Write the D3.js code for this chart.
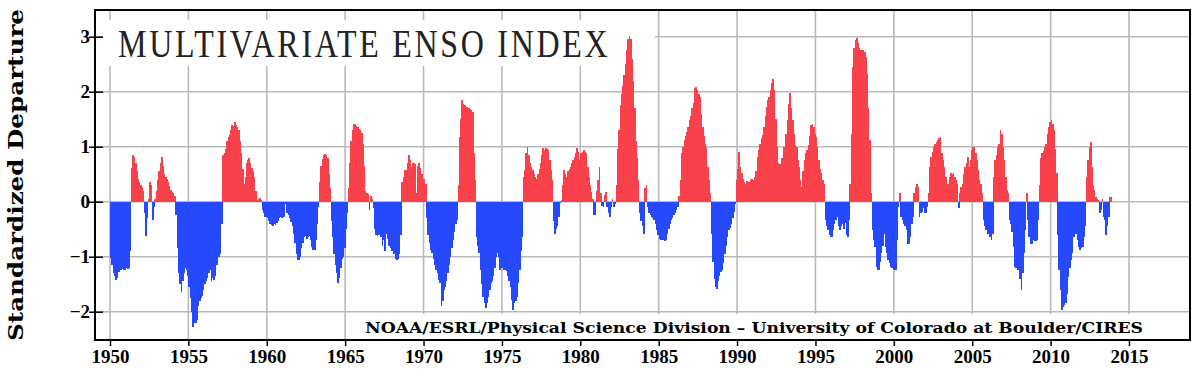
<!DOCTYPE html>
<html>
<head>
<meta charset="utf-8">
<script src="https://cdn.jsdelivr.net/npm/d3@7"></script>
<style>
  body { margin: 0; background: #fff; }
  svg { display: block; }
</style>
</head>
<body>
<script>
// MEI values, one per month (Dec/Jan, Jan/Feb, ...)
const startYear = 1950;
const mei1950s = [
  -1.03,-1.15,-1.30,-1.35,-1.42,-1.38,-1.28,-1.25,-1.24,-1.22,-1.24,-1.25,
  -1.20,-1.22,-1.20,-0.90,0.62,0.85,0.82,0.70,0.55,0.42,0.35,0.30,
  0.27,0.20,-0.20,-0.62,-0.30,0.05,0.36,0.30,-0.33,-0.10,0.05,0.20,
  0.40,0.55,0.70,0.82,0.65,0.50,0.45,0.42,0.35,0.28,0.22,0.18,
  0.15,0.10,-0.25,-0.85,-1.30,-1.50,-1.65,-1.45,-1.30,-1.20,-1.25,-1.35,
  -1.55,-1.75,-2.00,-2.27,-2.20,-2.20,-2.15,-1.90,-1.80,-1.75,-1.72,-1.60,
  -1.50,-1.45,-1.38,-1.30,-1.25,-1.45,-1.38,-1.42,-1.35,-1.15,-0.95,-1.00,
  -0.95,-0.40,0.85,0.88,0.95,1.10,1.18,1.22,1.30,1.40,1.38,1.45,
  1.40,1.35,1.30,1.10,0.88,0.60,0.33,0.45,0.70,0.75,0.79,0.70,
  0.62,0.55,0.45,0.20,0.03,0.05,0.06,0.04,-0.15,-0.20,-0.27,-0.27
];
const mei1960s = [
  -0.30,-0.35,-0.40,-0.42,-0.45,-0.40,-0.42,-0.38,-0.35,-0.30,-0.28,-0.30,
  -0.27,-0.27,-0.05,-0.21,-0.25,-0.30,-0.36,-0.45,-0.58,-0.75,-0.95,-1.06,
  -1.06,-1.00,-0.85,-0.75,-0.65,-0.62,-0.68,-0.64,-0.62,-0.70,-0.82,-0.88,
  -0.88,-0.70,-0.40,-0.10,0.35,0.65,0.78,0.85,0.86,0.85,0.80,0.50,
  0.25,-0.35,-0.65,-0.95,-1.15,-1.30,-1.48,-1.38,-1.20,-1.05,-1.00,-0.85,
  -0.50,-0.20,0.25,0.70,1.10,1.30,1.42,1.42,1.38,1.36,1.33,1.30,
  1.25,1.05,0.65,0.20,0.15,0.14,-0.15,0.10,0.05,-0.12,-0.50,-0.60,
  -0.62,-0.60,-0.58,-0.65,-0.80,-0.70,-0.90,-0.58,-0.68,-0.80,-0.85,-0.90,
  -0.85,-0.95,-1.05,-1.06,-1.04,-0.95,-0.60,0.35,0.45,0.58,0.58,0.70,
  0.85,0.75,0.64,0.70,0.70,0.68,0.15,0.65,0.70,0.62,0.50,0.42
];
const mei1970s = [
  0.42,0.33,-0.30,-0.60,-0.75,-0.88,-0.94,-1.05,-1.15,-1.24,-1.30,-1.42,
  -1.48,-1.90,-1.80,-1.60,-1.55,-1.45,-1.30,-1.15,-1.00,-0.85,-0.70,-0.55,
  -0.40,-0.33,0.30,1.18,1.50,1.85,1.78,1.75,1.73,1.72,1.70,1.68,
  1.66,1.64,0.88,0.39,-0.64,-0.80,-0.94,-1.24,-1.50,-1.73,-1.85,-1.94,
  -1.85,-1.73,-1.60,-1.48,-1.45,-1.35,-1.20,-1.00,-0.94,-1.00,-1.24,-1.20,
  -1.20,-1.24,-1.24,-1.26,-1.35,-1.45,-1.55,-1.79,-1.97,-1.85,-1.80,-1.73,
  -1.48,-1.24,-0.90,-0.64,0.45,0.58,0.88,1.00,0.85,0.70,0.64,0.58,
  0.50,0.45,0.42,0.50,0.60,0.70,0.85,0.97,0.94,0.97,0.95,0.94,
  0.76,0.58,0.39,-0.35,-0.58,-0.50,-0.45,-0.27,-0.03,0.03,0.30,0.58,
  0.50,0.45,0.55,0.60,0.64,0.70,0.76,0.82,0.88,0.97,0.90,0.76
];
const mei1980s = [
  0.88,0.90,0.94,0.91,0.88,0.64,0.45,0.30,0.18,0.05,-0.24,-0.24,
  0.20,0.40,0.64,0.15,-0.08,-0.10,0.12,0.18,-0.10,-0.20,-0.27,-0.10,
  0.05,-0.10,-0.05,0.30,0.95,1.30,1.75,1.95,2.10,2.30,2.50,2.75,
  2.95,3.02,2.95,2.60,2.20,1.70,1.10,0.80,0.40,-0.20,-0.35,-0.45,
  -0.58,0.25,0.30,-0.10,-0.20,-0.25,-0.27,-0.30,-0.33,-0.40,-0.52,-0.60,
  -0.68,-0.70,-0.70,-0.70,-0.72,-0.70,-0.58,-0.50,-0.40,-0.33,-0.30,-0.25,
  -0.21,-0.15,-0.09,0.10,0.39,0.88,1.00,1.12,1.20,1.26,1.36,1.48,
  1.55,1.70,1.79,2.06,2.09,2.03,1.95,1.90,1.60,1.35,1.20,1.05,
  1.00,0.64,0.39,0.15,-0.58,-1.10,-1.40,-1.55,-1.58,-1.45,-1.35,-1.28,
  -1.25,-1.12,-0.95,-0.80,-0.65,-0.52,-0.48,-0.40,-0.30,-0.18,-0.05,0.39
];
const mei1990s = [
  0.60,0.91,0.64,0.52,0.42,0.35,0.33,0.38,0.36,0.36,0.40,0.42,
  0.39,0.45,0.55,0.82,0.94,1.05,1.15,1.22,1.35,1.55,1.73,1.85,
  1.90,2.03,2.15,2.24,2.03,1.50,1.00,0.70,0.68,0.66,0.80,1.00,
  1.00,1.24,1.48,1.78,1.97,1.70,1.48,1.24,1.03,1.00,0.76,0.64,
  0.39,0.27,0.55,0.76,0.88,0.94,1.03,1.20,1.40,1.42,1.36,1.24,
  1.18,1.00,0.76,0.60,0.52,0.40,0.33,-0.33,-0.45,-0.52,-0.60,-0.64,
  -0.64,-0.52,-0.40,-0.33,-0.28,-0.45,-0.52,-0.45,-0.40,-0.50,-0.38,-0.60,
  -0.64,-0.33,0.33,1.24,2.45,2.80,2.94,2.97,2.88,2.80,2.76,2.45,
  2.76,2.72,2.64,2.33,1.70,1.12,0.15,-0.52,-0.70,-0.82,-1.18,-1.24,
  -1.24,-1.10,-0.94,-0.80,-0.58,-0.82,-0.94,-1.06,-1.12,-1.18,-1.21,-1.24
];
const mei2000s = [
  -1.24,-1.24,-0.70,-0.09,0.15,-0.27,-0.33,-0.40,-0.45,-0.52,-0.76,-0.76,
  -0.64,-0.40,-0.27,0.15,0.27,0.33,0.27,-0.27,-0.20,-0.18,-0.12,-0.21,
  -0.21,-0.10,0.15,0.64,0.82,0.90,1.00,1.05,1.09,1.12,1.15,1.18,
  0.88,0.76,0.64,0.45,0.15,0.33,0.45,0.52,0.50,0.52,0.45,0.40,
  0.33,-0.12,0.15,0.27,0.33,0.50,0.64,0.70,0.82,0.64,0.76,0.94,
  1.00,1.00,0.88,0.76,0.58,0.39,0.33,0.15,-0.33,-0.45,-0.52,-0.58,
  -0.58,-0.64,-0.70,-0.58,0.45,0.76,0.85,1.00,1.05,1.30,1.24,1.00,
  0.76,0.45,0.21,0.15,-0.33,-0.40,-0.55,-0.82,-1.18,-1.20,-1.24,-1.24,
  -1.40,-1.60,-1.30,-0.94,-0.52,0.15,-0.33,-0.64,-0.76,-0.76,-0.70,-0.72,
  -0.72,-0.70,-0.33,0.30,0.80,0.88,0.92,1.00,1.05,1.24,1.36,1.45
];
const mei2010s = [
  1.48,1.42,1.30,0.95,0.52,-0.60,-1.24,-1.60,-1.97,-1.92,-1.88,-1.85,
  -1.67,-1.36,-1.20,-1.06,-0.94,-0.64,-0.27,-0.58,-0.70,-0.82,-0.88,-0.85,
  -0.82,-0.64,-0.45,0.45,0.76,1.00,1.09,0.64,0.30,0.21,0.09,0.05,
  0.03,-0.21,-0.15,0.05,-0.27,-0.33,-0.60,-0.45,-0.27,0.09,0.09
];
const yearTicks  = [1950,1955,1960,1965,1970,1975,1980,1985,1990,1995,2000,2005,2010,2015];
const valueTicks = [-2,-1,0,1,2,3];
const titleText  = "MULTIVARIATE ENSO INDEX";
const creditText = "NOAA/ESRL/Physical Science Division \u2013 University of Colorado at Boulder/CIRES";
const yLabelText = "Standardized Departure";

const mei = [].concat(mei1950s, mei1960s, mei1970s, mei1980s, mei1990s, mei2000s, mei2010s);
const data = mei.map((v, i) => ({ t: startYear + i / 12, v: v }));

const width = 1200, height = 378;
const frame = { left: 95, right: 1190, top: 10, bottom: 340 };

const x = d3.scaleLinear().domain([1950, 2015]).range([110, 1129]);
const y = d3.scaleLinear().domain([-2, 3]).range([311.7, 36.7]);

const red = "#f8414a", blue = "#2549fb", grid = "#b9b9b9";
const labelFont = "'Liberation Serif', serif";

const svg = d3.select("body").append("svg")
    .attr("width", width)
    .attr("height", height)
    .attr("viewBox", "0 0 " + width + " " + height);

// gridlines
svg.append("g").selectAll("line.v")
  .data(yearTicks)
  .enter().append("line")
    .attr("x1", d => x(d)).attr("x2", d => x(d))
    .attr("y1", frame.top).attr("y2", frame.bottom)
    .attr("stroke", grid).attr("stroke-width", 1.6);
svg.append("g").selectAll("line.h")
  .data(valueTicks)
  .enter().append("line")
    .attr("x1", frame.left).attr("x2", frame.right)
    .attr("y1", d => y(d)).attr("y2", d => y(d))
    .attr("stroke", grid).attr("stroke-width", 1.6);

// white boxes behind title and credit line
svg.append("rect").attr("x", 103).attr("y", 20).attr("width", 552).attr("height", 46).attr("fill", "#fff");
svg.append("rect").attr("x", 360).attr("y", 314).attr("width", 787).attr("height", 25).attr("fill", "#fff");

// bars
const dt = 1 / 12;
svg.append("g")
    .attr("shape-rendering", "crispEdges")
  .selectAll("rect")
  .data(data)
  .enter().append("rect")
    .attr("x", d => x(d.t))
    .attr("width", d => x(d.t + dt) - x(d.t) + 0.4)
    .attr("y", d => d.v >= 0 ? y(d.v) : y(0))
    .attr("height", d => Math.abs(y(d.v) - y(0)))
    .attr("fill", d => d.v >= 0 ? red : blue);

// axes
const xAxis = d3.axisBottom(x).tickValues(yearTicks).tickSize(6).tickPadding(4).tickFormat(d3.format("d"));
const gx = svg.append("g").attr("transform", "translate(0," + frame.bottom + ")").call(xAxis);
gx.select(".domain").remove();
gx.selectAll("line").attr("stroke", "#000").attr("stroke-width", 1.5);
gx.selectAll("text").attr("font-family", labelFont).attr("font-weight", "bold")
  .attr("font-size", 19).attr("fill", "#000").attr("dy", "0.66em");

const yAxis = d3.axisLeft(y).tickValues(valueTicks).tickSize(6).tickPadding(6).tickFormat(d3.format("d"));
const gy = svg.append("g").attr("transform", "translate(" + frame.left + ",0)").call(yAxis);
gy.select(".domain").remove();
gy.selectAll("line").attr("stroke", "#000").attr("stroke-width", 1.5).attr("x2", -6).attr("x1", 8);
gy.selectAll("text").attr("font-family", labelFont).attr("font-weight", "bold")
  .attr("font-size", 19).attr("fill", "#000").attr("x", -5);

// frame
svg.append("rect")
    .attr("x", frame.left).attr("y", frame.top)
    .attr("width", frame.right - frame.left).attr("height", frame.bottom - frame.top)
    .attr("fill", "none").attr("stroke", "#000").attr("stroke-width", 2);

// title: narrow glyphs, wide spacing
svg.append("g")
    .attr("transform", "translate(118,57) scale(0.8,1)")
  .append("text")
    .attr("x", 0).attr("y", 0)
    .attr("font-family", labelFont).attr("font-size", 40)
    .attr("textLength", 612).attr("lengthAdjust", "spacing")
    .attr("fill", "#222")
    .text(titleText);

svg.append("text")
    .attr("x", 365).attr("y", 333)
    .attr("font-family", "'DejaVu Serif', serif").attr("font-weight", "bold").attr("font-size", 15)
    .attr("textLength", 778).attr("lengthAdjust", "spacingAndGlyphs")
    .attr("fill", "#000")
    .text(creditText);

svg.append("text")
    .attr("transform", "translate(23," + (frame.top + frame.bottom) / 2 + ") rotate(-90)")
    .attr("text-anchor", "middle")
    .attr("font-family", "'DejaVu Serif', serif").attr("font-weight", "bold").attr("font-size", 21)
    .attr("textLength", 332).attr("lengthAdjust", "spacingAndGlyphs")
    .attr("fill", "#000")
    .text(yLabelText);
</script>
</body>
</html>
